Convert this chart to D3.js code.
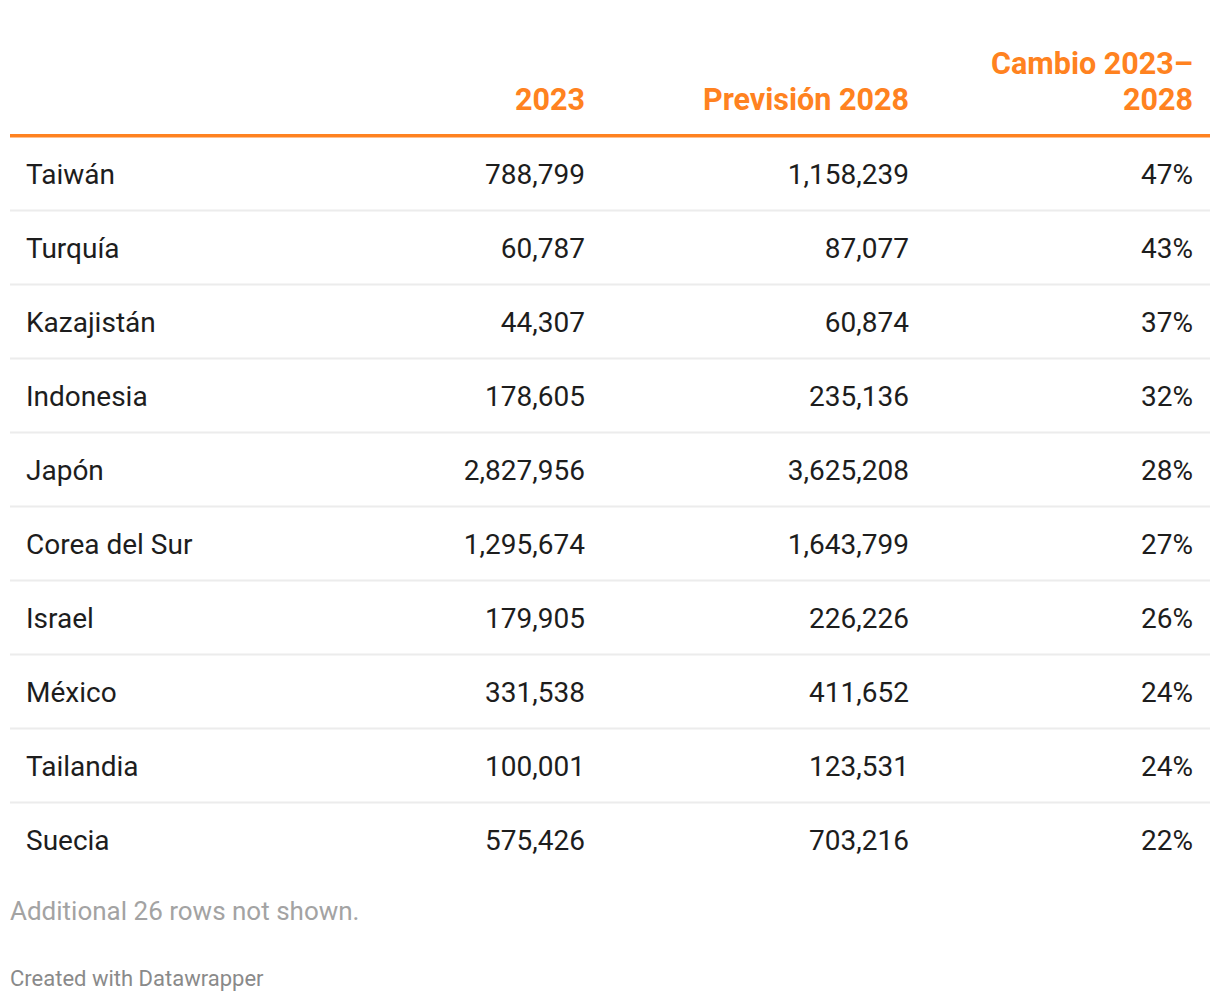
<!DOCTYPE html>
<html>
<head>
<meta charset="utf-8">
<script src="https://cdn.jsdelivr.net/npm/d3@7"></script>
<style>
  html, body { margin: 0; padding: 0; background: #fff; }
  svg { display: block; font-family: Roboto, "Noto Sans", sans-serif; }
</style>
</head>
<body>
<svg id="chart" width="1220" height="1002"></svg>
<script>
const countries = ["Taiwán","Turquía","Kazajistán","Indonesia","Japón","Corea del Sur","Israel","México","Tailandia","Suecia"];
const values2023 = [788799, 60787, 44307, 178605, 2827956, 1295674, 179905, 331538, 100001, 575426];
const forecast2028 = [1158239, 87077, 60874, 235136, 3625208, 1643799, 226226, 411652, 123531, 703216];
const changePct = [47, 43, 37, 32, 28, 27, 26, 24, 24, 22];
const headers = [[""], ["2023"], ["Previsión 2028"], ["Cambio 2023–", "2028"]];
const note = "Additional 26 rows not shown.";
const credit = "Created with Datawrapper";

const svg = d3.select("#chart");
const orange = "#ff8220";
const fmt = d3.format(",");

const y = d3.scaleBand().domain(countries).range([137, 877]).paddingInner(0);
const colX = d3.scaleOrdinal().domain([0,1,2,3]).range([26, 585, 909, 1193]);
const colAnchor = ["start","end","end","end"];

// header
const hg = svg.append("g");
headers.forEach((lines, i) => {
  lines.forEach((t, j) => {
    hg.append("text")
      .attr("x", colX(i))
      .attr("y", 110 - (lines.length - 1 - j) * 36)
      .attr("text-anchor", colAnchor[i])
      .attr("font-size", 30.5)
      .attr("font-weight", 700)
      .attr("fill", orange)
      .text(t);
  });
});
svg.append("rect").attr("x", 10).attr("y", 134).attr("width", 1200).attr("height", 3.5).attr("fill", orange);

// rows
const rows = countries.map((c, i) => ({c, cells: [c, fmt(values2023[i]), fmt(forecast2028[i]), changePct[i] + "%"], i}));
const rg = svg.append("g").selectAll("g").data(rows).join("g")
  .attr("transform", d => `translate(0,${y(d.c)})`);

rg.filter(d => d.i < countries.length - 1)
  .append("rect").attr("x", 10).attr("y", y.bandwidth() - 1.5).attr("width", 1200).attr("height", 2).attr("fill", "#ececec");

rg.selectAll("text").data(d => d.cells).join("text")
  .attr("x", (d, i) => colX(i))
  .attr("y", y.bandwidth() / 2 + 10)
  .attr("text-anchor", (d, i) => colAnchor[i])
  .attr("font-size", 28)
  .attr("font-weight", 400)
  .attr("fill", "#1d1d1d")
  .text(d => d);

svg.append("text").attr("x", 10).attr("y", 920).attr("font-size", 26).attr("fill", "#a3a3a3").text(note);
svg.append("text").attr("x", 10).attr("y", 986).attr("font-size", 22).attr("fill", "#8a8a8a").text(credit);
</script>
</body>
</html>
